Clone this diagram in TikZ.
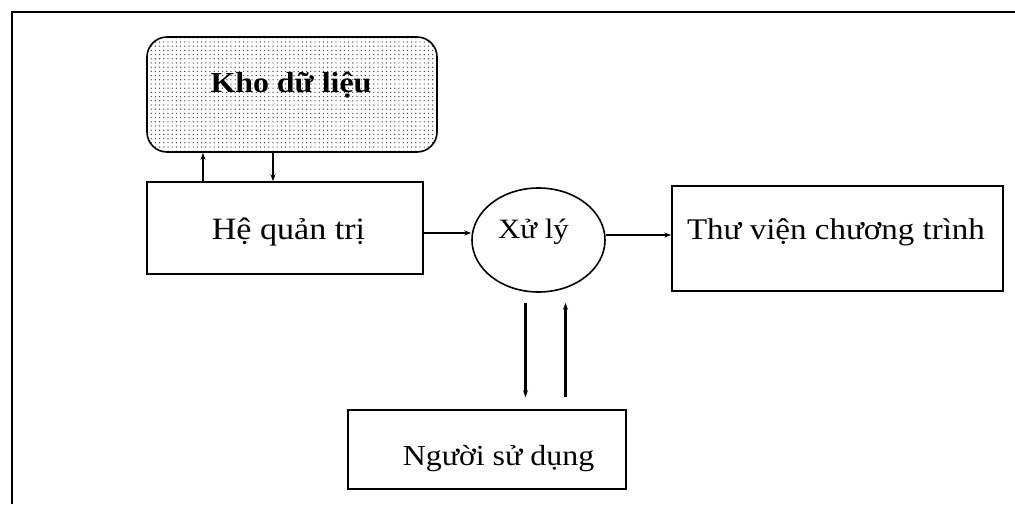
\documentclass[tikz,border=0pt]{standalone}
\usepackage{fontspec}
\setmainfont{Liberation Serif}[FakeStretch=1.1]
\usetikzlibrary{arrows.meta,shapes.geometric,patterns.meta}
\begin{document}
\begin{tikzpicture}[x=1pt,y=-1pt,
  box/.style={draw,line width=1.6pt,inner sep=0pt},
  store/.style={box,rounded corners=20pt,
    pattern={Dots[distance=4.2pt,radius=0.7pt]},pattern color=black!75},
  proc/.style={box,ellipse},
  lbl/.style={anchor=base,inner sep=0pt},
  arr/.style={line width=2pt,-{Stealth[length=7pt,width=5pt]}},
  link/.style={line width=2.8pt,-{Stealth[length=7pt,width=5pt]}}]
\useasboundingbox (0,0) rectangle (1015,504);
% page frame (open on the right and bottom)
\draw[line width=2pt] (12,504) -- (12,12) -- (1015,12);
% blocks
\node[store,minimum width=290pt,minimum height=115pt] (kho) at (292,94.5) {};
\node[box,minimum width=276pt,minimum height=92pt] (he) at (285,228) {};
\node[proc,minimum width=133pt,minimum height=104pt] (xl) at (538.5,240) {};
\node[box,minimum width=331pt,minimum height=105pt] (tv) at (837.5,238.5) {};
\node[box,minimum width=278pt,minimum height=79pt] (ng) at (487,449.5) {};
% labels
\node[lbl,font=\fontsize{29}{34}\selectfont\bfseries] (khot) at (291,92) {Kho dữ liệu};
\node[lbl,font=\fontsize{31}{36}\selectfont] (het) at (288.5,239) {Hệ quản trị};
\node[lbl,font=\fontsize{28}{32}\selectfont] (xlt) at (533.5,238) {Xử lý};
\node[lbl,font=\fontsize{30}{34}\selectfont] (tvt) at (836,239) {Thư viện chương trình};
\node[lbl,font=\fontsize{29}{34}\selectfont] (ngt) at (498.5,465) {Người sử dụng};
% data store <-> manager
\draw[link] ([xshift=-82pt]he.north) -- ([xshift=-82pt]he.north |- kho.south);
\draw[link] ([xshift=-12pt]he.north |- kho.south) -- ([xshift=-12pt]he.north);
% main flow
\draw[arr] ([yshift=-5pt]he.east) -- ([yshift=-5pt]he.east -| xl.west);
\draw[arr] ([yshift=5pt]xl.east) -- ([yshift=5pt]xl.east -| tv.west);
% processing <-> user
\coordinate (d1) at ([xshift=-13pt,yshift=-10pt]xl.south);
\coordinate (u1) at ([xshift=27pt,yshift=-10pt]xl.south);
\draw[link] (d1) -- ([yshift=12pt]d1 |- ng.north);
\draw[link] ([yshift=12pt]u1 |- ng.north) -- (u1);
\end{tikzpicture}
\end{document}
